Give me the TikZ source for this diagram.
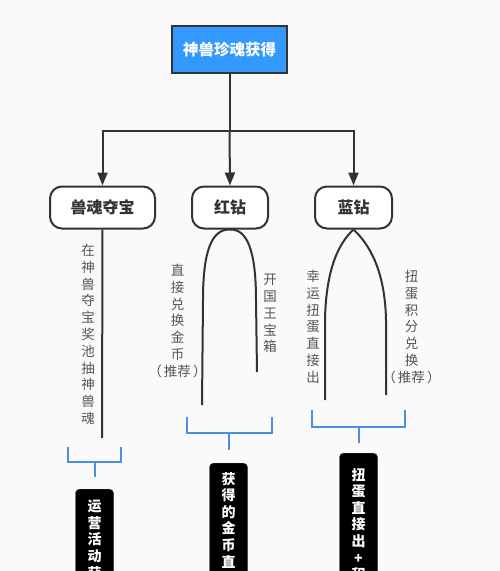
\documentclass[tikz,border=0pt]{standalone}
\usepackage{fontspec}
\setmainfont{Noto Sans CJK SC}
\usetikzlibrary{arrows.meta}
\definecolor{bg}{RGB}{250,250,250}
\definecolor{ink}{RGB}{51,51,51}
\definecolor{topblue}{RGB}{51,153,255}
\definecolor{brk}{RGB}{74,144,226}
\definecolor{gtext}{RGB}{85,85,85}
\begin{document}
\begin{tikzpicture}[x=1pt,y=-1pt,
  topbox/.style={draw=ink,line width=2pt,fill=topblue,text=white,font=\fontsize{15.5}{18}\selectfont\bfseries,minimum width=115pt,minimum height=47pt,inner sep=0pt},
  catbox/.style={draw=ink,line width=2pt,fill=white,rounded corners=12pt,text=ink,font=\fontsize{16}{18}\selectfont\bfseries,minimum height=42pt,inner sep=0pt},
  conn/.style={draw=ink,line width=2pt},
  arr/.style={conn,-{Triangle[length=13pt,width=10pt]}},
  vtext/.style={text=gtext,font=\fontsize{13.5}{16.8}\selectfont,align=center,inner sep=0pt,anchor=north},
  brack/.style={draw=brk,line width=2pt},
  blackbox/.style={fill=black,draw=ink,rounded corners=4pt,minimum width=38pt,minimum height=130pt,anchor=north,inner sep=0pt},
  btext/.style={text=white,font=\fontsize{14}{16.6}\selectfont\bfseries,align=center,inner sep=0pt,anchor=north}
]
\useasboundingbox (0,0) rectangle (500,571);
\clip (0,0) rectangle (500,571);
\fill[bg] (0,0) rectangle (500,571);

% top
\node[topbox] (top) at (229.5,49.5) {神兽珍魂获得};
\node[catbox,minimum width=105pt] (n1) at (102.5,207.5) {兽魂夺宝};
\node[catbox,minimum width=76pt] (n2) at (230,207.5) {红钻};
\node[catbox,minimum width=77pt] (n3) at (353.5,207.5) {蓝钻};

\coordinate (hub) at (229.5,131);
\draw[conn] (top.south) -- (hub);
\draw[arr] (hub) -| (n1.north);
\draw[arr] (hub) -| (n3.north);
\draw[arr] (hub) -- (n2.north);

% branch 1
\coordinate (e1) at (102,438);
\draw[conn] (n1.south) -- (e1);
\node[vtext] (t1) at (88,244) {在\\神\\兽\\夺\\宝\\奖\\池\\抽\\神\\兽\\魂};

% branch 2
\coordinate (e2l) at (202,405);
\coordinate (e2r) at (257,372);
\draw[conn] (n2.south) .. controls (212,229) and (203,250) .. (203,300) -- (e2l);
\draw[conn] (n2.south) .. controls (247,229) and (256,250) .. (256,300) -- (e2r);
\node[vtext] (t2) at (177.5,264) {直\\接\\兑\\换\\金\\币\\（\,推荐\,）};
\node[vtext] (t3) at (270,274) {开\\国\\王\\宝\\箱};

% branch 3
\coordinate (e3l) at (325,400);
\coordinate (e3r) at (386,395);
\draw[conn] (n3.south) .. controls (338,244) and (326,270) .. (325,320) -- (e3l);
\draw[conn] (n3.south) .. controls (369,244) and (385,270) .. (386,320) -- (e3r);
\node[vtext] (t4) at (313,270) {幸\\运\\扭\\蛋\\直\\接\\出};
\node[vtext] (t5) at (411.5,270) {扭\\蛋\\积\\分\\兑\\换\\（\,推荐\,）};

% brackets
\draw[brack] (68,447) -- (68,462) -- (121,462) -- (121,447);
\draw[brack] (94.5,462) -- (94.5,477);
\draw[brack] (187,417) -- (187,433) -- (272,433) -- (272,417);
\draw[brack] (229,433) -- (229,450);
\draw[brack] (312,410) -- (312,427) -- (405,427) -- (405,410);
\draw[brack] (358.5,427) -- (358.5,443);

% black boxes
\node[blackbox] (b1) at (94.5,489) {};
\node[btext] at ([yshift=-11pt]b1.north) {运\\营\\活\\动\\获};
\node[blackbox] (b2) at (228.5,463) {};
\node[btext] at ([yshift=-9pt]b2.north) {获\\得\\的\\金\\币\\直};
\node[blackbox] (b3) at (358.5,453) {};
\node[btext] at ([yshift=-15pt]b3.north) {扭\\蛋\\直\\接\\出\\+\\积};
\end{tikzpicture}
\end{document}
